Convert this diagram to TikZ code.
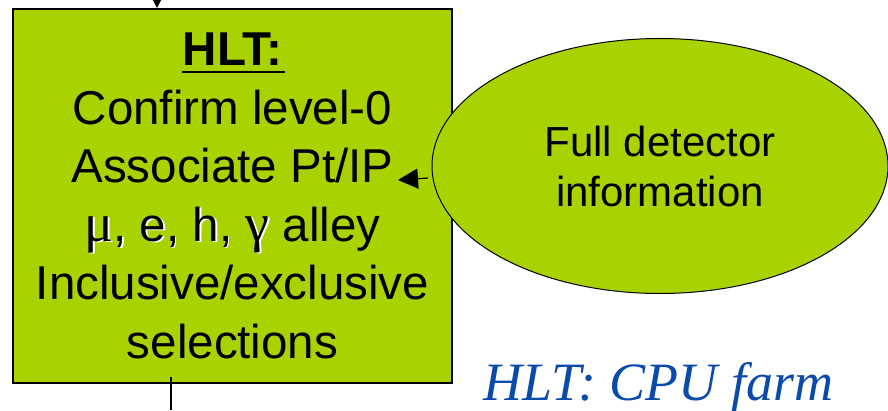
\documentclass[tikz,border=0pt]{standalone}
\usepackage{fontspec}
\setmainfont{Liberation Sans}
\newfontfamily\grk{Liberation Serif}
\newfontfamily\capfont{Liberation Serif}
\usetikzlibrary{arrows.meta,shapes.geometric}
\definecolor{lhcbgreen}{RGB}{168,211,0}
\definecolor{capblue}{RGB}{10,74,170}
% underlined heading with a heavy rule
\newcommand\ulhead[1]{\setbox0\hbox{#1}\rlap{\hspace{-1pt}\rule[-7.5pt]{\dimexpr\wd0+4pt\relax}{2.5pt}}\box0}
% text with a white drop shadow
\newcommand\shtext[1]{\makebox[0pt][l]{\hspace{1.6pt}\raisebox{-1.6pt}{\color{white}#1}}#1}
% serif Greek letters, a little larger than the sans text
\newcommand\gl[1]{{\grk\fontsize{54}{58.5}\selectfont #1}}
\tikzset{
  stagebox/.style={draw=black, line width=2pt, fill=lhcbgreen, minimum width=439pt,
    minimum height=374pt, inner sep=0pt, align=center,
    font=\fontsize{47.5}{58.5}\selectfont},
  infoellipse/.style={draw=black, line width=1pt, fill=lhcbgreen, ellipse,
    minimum width=456pt, minimum height=255pt, inner sep=0pt, align=center,
    font=\fontsize{42}{50}\selectfont},
  flow/.style={line width=1.2pt},
}
\begin{document}
\begin{tikzpicture}[x=1pt,y=1pt]
  \useasboundingbox (0,0) rectangle (888,410);
  \node[stagebox] (hlt) at (232.5,214)
    {\ulhead{\textbf{HLT:}}\\
     Confirm level-0\\
     Associate Pt/IP\\
     \shtext{\gl{μ}, e, h, \gl{γ}} alley\\
     Inclusive/exclusive\\
     selections};
  \node[infoellipse] (full) at (660,244) {Full detector\\information};
  \node[anchor=base west, text=capblue, font=\capfont\itshape\fontsize{54}{60}\selectfont]
    (cap) at (480,10) {HLT: CPU farm};
  % incoming and outgoing data paths
  \coordinate (in) at (157,410);
  \coordinate (out) at (171,0);
  \coordinate (fdsrc) at (428,232);
  \coordinate (fddst) at (398,230);
  \draw[flow, -{Triangle[length=9pt,width=9pt]}] (in) -- (in |- hlt.north);
  \draw[flow] (171,33) -- (out);
  \draw[flow, -{Triangle[length=20pt,width=20pt]}] (fdsrc) -- (fddst);
\end{tikzpicture}
\end{document}
